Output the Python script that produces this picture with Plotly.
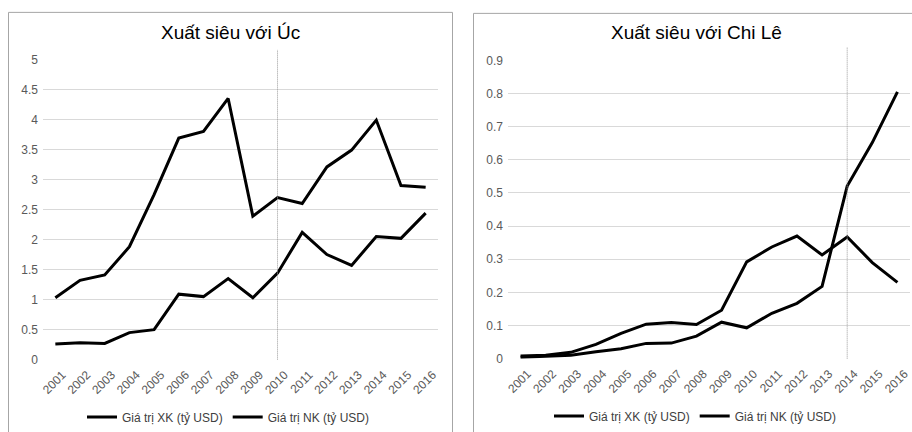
import plotly.graph_objects as go

years = [str(y) for y in range(2001, 2017)]

# Xuất siêu với Úc
uc_xk = [1.03, 1.32, 1.41, 1.88, 2.75, 3.69, 3.80, 4.35, 2.39, 2.70, 2.60, 3.21, 3.49, 3.99, 2.90, 2.87]
uc_nk = [0.26, 0.28, 0.27, 0.45, 0.50, 1.09, 1.05, 1.35, 1.03, 1.44, 2.12, 1.75, 1.57, 2.05, 2.02, 2.44]

# Xuất siêu với Chi Lê
cl_xk = [0.004, 0.008, 0.010, 0.021, 0.030, 0.046, 0.047, 0.068, 0.110, 0.093, 0.137, 0.167, 0.218, 0.521, 0.652, 0.805]
cl_nk = [0.008, 0.010, 0.019, 0.043, 0.076, 0.104, 0.109, 0.103, 0.146, 0.292, 0.337, 0.370, 0.313, 0.367, 0.290, 0.230]

uc_ticks = [0, 0.5, 1, 1.5, 2, 2.5, 3, 3.5, 4, 4.5, 5]
cl_ticks = [0, 0.1, 0.2, 0.3, 0.4, 0.5, 0.6, 0.7, 0.8, 0.9]

name_xk = "Giá trị XK (tỷ USD)"
name_nk = "Giá trị NK (tỷ USD)"
uc_title = "Xuất siêu với Úc"
cl_title = "Xuất siêu với Chi Lê"
uc_mark_year = "2010"
cl_mark_year = "2014"

W, H = 912, 432
FONT = "Liberation Sans, Arial, sans-serif"
TICK_COLOR = "#595959"
GRID = "#d9d9d9"

def px(x):
    return x / W

def py(y):
    return 1 - y / H

fig = go.Figure()

line_style = dict(color="black", width=3)
fig.add_trace(go.Scatter(x=years, y=uc_xk, mode="lines", name=name_xk, line=line_style,
                         xaxis="x", yaxis="y", legend="legend"))
fig.add_trace(go.Scatter(x=years, y=uc_nk, mode="lines", name=name_nk, line=line_style,
                         xaxis="x", yaxis="y", legend="legend"))
fig.add_trace(go.Scatter(x=years, y=cl_xk, mode="lines", name=name_xk, line=line_style,
                         xaxis="x2", yaxis="y2", legend="legend2"))
fig.add_trace(go.Scatter(x=years, y=cl_nk, mode="lines", name=name_nk, line=line_style,
                         xaxis="x2", yaxis="y2", legend="legend2"))

xcommon = dict(type="category", range=[-0.5, 15.5], tickangle=-45, showgrid=False,
               showline=False, ticks="", automargin=False,
               ticklabelstandoff=5, ticklabelshift=7,
               tickfont=dict(family=FONT, size=12, color=TICK_COLOR), fixedrange=True)
ycommon = dict(showgrid=True, gridcolor=GRID, gridwidth=1, zeroline=False, showline=False,
               ticks="", automargin=False, ticklabelstandoff=4,
               tickfont=dict(family=FONT, size=12, color=TICK_COLOR), fixedrange=True)

fig.update_layout(
    template="none",
    width=W, height=H,
    autosize=False,
    margin=dict(l=0, r=0, t=0, b=0, pad=0),
    paper_bgcolor="white", plot_bgcolor="white",
    font=dict(family=FONT, color="#000000"),
    xaxis=dict(domain=[px(43), px(438)], anchor="y", **xcommon),
    yaxis=dict(domain=[py(363), py(60)], anchor="x", range=[0, 5], tickvals=uc_ticks,
               ticktext=[f"{v:g}" for v in uc_ticks], **ycommon),
    xaxis2=dict(domain=[px(508), px(910)], anchor="y2", **xcommon),
    yaxis2=dict(domain=[py(362), py(61)], anchor="x2", range=[0, 0.9], tickvals=cl_ticks,
                ticktext=[f"{v:g}" for v in cl_ticks], **ycommon),
    legend=dict(orientation="h", x=px(82), y=py(421), xanchor="left", yanchor="middle",
                bgcolor="rgba(0,0,0,0)", font=dict(family=FONT, size=12, color="#404040"),
                itemwidth=30, tracegroupgap=0),
    legend2=dict(orientation="h", x=px(549), y=py(420), xanchor="left", yanchor="middle",
                 bgcolor="rgba(0,0,0,0)", font=dict(family=FONT, size=12, color="#404040"),
                 itemwidth=30, tracegroupgap=0),
    showlegend=True,
)

# panel frames
fig.add_shape(type="rect", xref="paper", yref="paper", x0=px(8.5), x1=px(452.5),
              y0=py(440), y1=py(12.5), line=dict(color="#a6a6a6", width=1), layer="below")
fig.add_shape(type="rect", xref="paper", yref="paper", x0=px(473.5), x1=px(930),
              y0=py(440), y1=py(13.5), line=dict(color="#a6a6a6", width=1), layer="below")

# dotted marker lines (positioned at the category index of the marked year)
uc_idx = years.index(uc_mark_year)
cl_idx = years.index(cl_mark_year)
fig.add_shape(type="line", xref="x", yref="paper", x0=uc_idx, x1=uc_idx,
              y0=py(363), y1=py(50), line=dict(color="#9a9a9a", width=1, dash="1px,1px"),
              layer="above")
fig.add_shape(type="line", xref="x2", yref="paper", x0=cl_idx, x1=cl_idx,
              y0=py(362), y1=py(48), line=dict(color="#9a9a9a", width=1, dash="1px,1px"),
              layer="above")

# titles
fig.add_annotation(text=uc_title, xref="paper", yref="paper", x=px(230), y=py(33),
                   xanchor="center", yanchor="middle", showarrow=False,
                   font=dict(family=FONT, size=19, color="#000000"))
fig.add_annotation(text=cl_title, xref="paper", yref="paper", x=px(696), y=py(33),
                   xanchor="center", yanchor="middle", showarrow=False,
                   font=dict(family=FONT, size=19, color="#000000"))

fig.write_html("out.html", config={"displayModeBar": False},
               post_script="document.body.style.margin='0px';")
